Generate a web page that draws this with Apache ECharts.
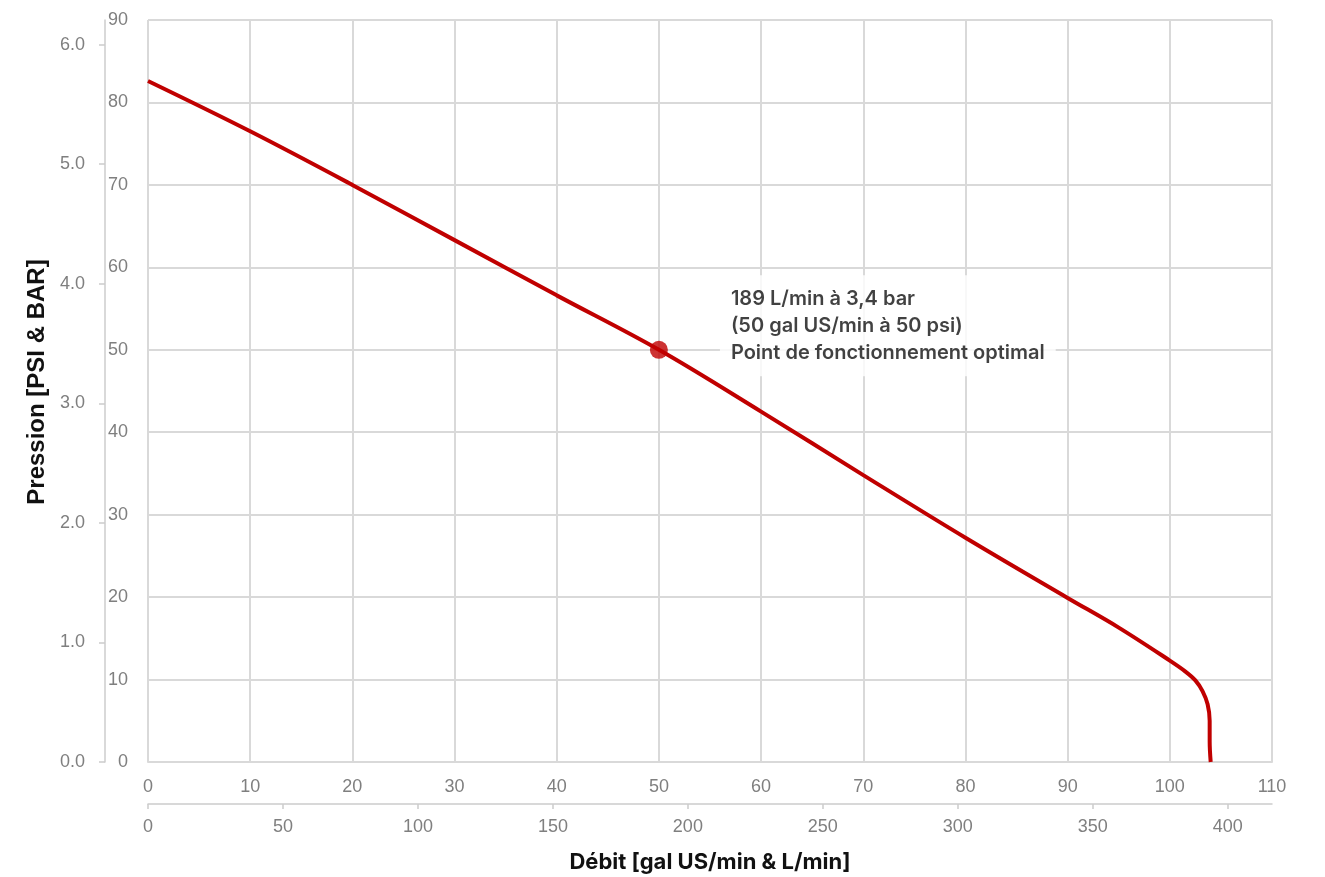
<!DOCTYPE html>
<html><head><meta charset="utf-8">
<script src="https://cdn.jsdelivr.net/npm/echarts@6/dist/echarts.min.js"></script>
<style>html,body{margin:0;padding:0;background:#fff}#c{width:1325px;height:877px}</style>
</head><body><div id="c"></div>
<script>
// Pump curve: flow (gal US/min) vs pressure (psi)
const flowGal = [0, 10, 20, 30, 40, 50, 60, 70, 80, 90, 95, 100, 101.5, 102.5, 103.2, 103.7, 103.9, 103.9, 104.0];
const pressurePsi = [82.6, 76.5, 70.0, 63.3, 56.6, 50.0, 42.5, 34.8, 27.2, 19.9, 16.3, 12.3, 11.0, 9.9, 8.6, 7.0, 5.0, 2.5, 0];
const optimalPoint = [50, 50];
const optimalLabel = ['189 L/min à 3,4 bar', '(50 gal US/min à 50 psi)', 'Point de fonctionnement optimal'];
const galMax = 110, psiMax = 90;
const L_PER_GAL = 3.78541, PSI_PER_BAR = 14.5038;
const xTitle = 'Débit [gal US/min & L/min]';
const yTitle = 'Pression [PSI & BAR]';

const axisTxt = {color: '#7f7f7f', fontSize: 18, fontFamily: 'Liberation Sans, Arial, sans-serif'};
const gridLine = {show: true, lineStyle: {color: '#d9d9d9', width: 2}};
const chart = echarts.init(document.getElementById('c'), null, {renderer: 'canvas'});
chart.setOption({
  animation: false,
  backgroundColor: '#fff',
  grid: {left: 148, right: 53, top: 20, bottom: 115, outerBoundsMode: 'none', containLabel: false},
  xAxis: [
    {type: 'value', min: 0, max: galMax, interval: 10, position: 'bottom',
     axisLine: {show: true, onZero: false, lineStyle: {color: '#d9d9d9', width: 2}}, axisTick: {show: false},
     axisLabel: Object.assign({margin: 16}, axisTxt), splitLine: gridLine},
    {type: 'value', min: 0, max: galMax * L_PER_GAL, interval: 50, position: 'bottom', offset: 42,
     axisLine: {show: true, onZero: false, lineStyle: {color: '#cccccc', width: 1.5}},
     axisTick: {show: true, inside: false, length: 5, lineStyle: {color: '#cccccc', width: 1.5}},
     axisLabel: Object.assign({margin: 14, showMaxLabel: false}, axisTxt), splitLine: {show: false},
     name: xTitle, nameLocation: 'middle', nameGap: 47,
     nameTextStyle: {color: '#111', fontSize: 22, fontWeight: 'bold', fontFamily: 'Inter, sans-serif'}}
  ],
  yAxis: [
    {type: 'value', min: 0, max: psiMax, interval: 10, position: 'left',
     axisLine: {show: false, onZero: false}, axisTick: {show: false},
     axisLabel: Object.assign({margin: 20}, axisTxt), splitLine: gridLine},
    {type: 'value', min: 0, max: psiMax / PSI_PER_BAR, interval: 1, position: 'left', offset: 43,
     axisLine: {show: true, onZero: false, lineStyle: {color: '#cccccc', width: 1.5}},
     axisTick: {show: true, inside: false, length: 6, lineStyle: {color: '#cccccc', width: 1.5}},
     axisLabel: Object.assign({margin: 20, showMaxLabel: false, formatter: v => v.toFixed(1)}, axisTxt),
     splitLine: {show: false},
     name: yTitle, nameLocation: 'middle', nameGap: 51, nameRotate: 90,
     nameTextStyle: {color: '#111', fontSize: 24, fontWeight: 'bold', fontFamily: 'Liberation Sans, Arial, sans-serif',
       padding: [0, 0, 0, 18]}}
  ],
  series: [
    {type: 'line', xAxisIndex: 0, yAxisIndex: 0, data: flowGal.map((g, i) => [g, pressurePsi[i]]),
     smooth: 0.35, showSymbol: false, lineStyle: {color: '#c00000', width: 4}, z: 3},
    {type: 'scatter', xAxisIndex: 0, yAxisIndex: 0, data: [optimalPoint], symbolSize: 18,
     itemStyle: {color: '#c00000'}, z: 4,
     label: {show: true, position: 'right', distance: 52, offset: [0, -24],
       formatter: optimalLabel.join('\n'), backgroundColor: '#fff', padding: [10, 11],
       color: '#111', fontSize: 20, fontWeight: 600, lineHeight: 27, fontFamily: 'Inter, sans-serif', align: 'left'}}
  ]
});
</script></body></html>
